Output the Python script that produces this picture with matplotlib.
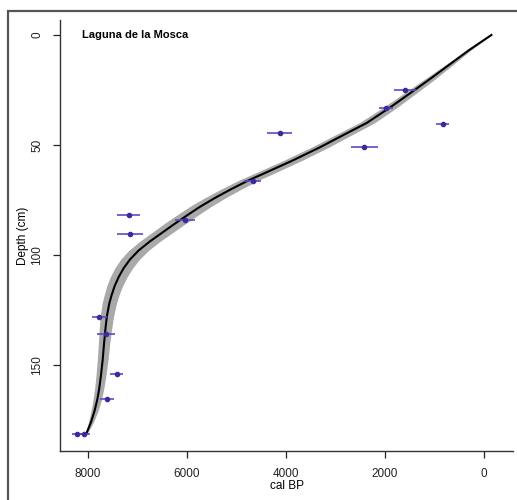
import matplotlib

matplotlib.use("Agg")
import matplotlib.pyplot as plt
from matplotlib.patches import Rectangle

plt.rcParams["font.family"] = ["Liberation Sans", "DejaVu Sans"]

# dated samples: calibrated age (cal BP), depth (cm), 1-sigma age error
age = [1600, 1980, 830, 4130, 2420, 4670, 6040, 7180, 7150,
       7770, 7640, 7420, 7620, 8220, 8080]
depth = [25, 33, 40.5, 44.7, 51, 66.4, 84, 82, 90.5,
         128, 136, 154, 165.5, 181.3, 181.6]
age_err = [220, 150, 130, 250, 270, 170, 200, 230, 260,
           150, 180, 130, 140, 100, 130]

# age-depth model (mean) and uncertainty envelope half-width
model_depth = [0, 7, 14.5, 20, 25, 33, 40, 45, 51, 57, 63, 66, 70, 74, 78,
               82, 86, 90, 94, 98, 102, 106, 110, 114, 118, 122, 128, 134,
               140, 148, 155, 161, 166, 171, 176, 181]
model_age = [-150, 310, 760, 1090, 1400, 1900, 2370, 2800, 3310, 3860,
             4450, 4750, 5100, 5430, 5730, 6000, 6260, 6510, 6760, 6980,
             7150, 7280, 7380, 7460, 7520, 7570, 7620, 7650, 7675, 7705,
             7740, 7775, 7815, 7870, 7940, 8030]
model_hw = [0, 40, 80, 105, 120, 140, 155, 165, 175, 185, 195, 200, 205,
            210, 215, 215, 215, 210, 205, 200, 190, 180, 170, 160, 150,
            145, 135, 125, 115, 108, 100, 92, 85, 70, 50, 20]

W, H = 517, 500
fig = plt.figure(figsize=(W / 100, H / 100), dpi=100)
fig.patch.set_facecolor("white")

# outer frame of the figure panel
fig.patches.append(Rectangle((8 / W, -0.1), 1.2, (H - 11) / H + 0.1,
                             transform=fig.transFigure, fill=False,
                             edgecolor="#555555", linewidth=1.6))

ax = fig.add_axes([60 / W, (H - 451) / H, (513 - 60) / W, (451 - 20) / H])

lo = [a - h for a, h in zip(model_age, model_hw)]
hi = [a + h for a, h in zip(model_age, model_hw)]
ax.fill_betweenx(model_depth, lo, hi, color="#a9a9a9", linewidth=0, zorder=1)
ax.plot(model_age, model_depth, color="black", linewidth=1.5, zorder=2,
        solid_joinstyle="round")

ax.errorbar(age, depth, xerr=age_err, fmt="o", color="#3a2c9c",
            ecolor="#5b4cc4", elinewidth=1.2, markersize=3,
            capsize=0, zorder=3)

ax.set_xlim(8566, -586)
ax.set_ylim(189.1, -6.8)
ax.set_xticks([8000, 6000, 4000, 2000, 0])
ax.set_yticks([0, 50, 100, 150])
ax.set_yticklabels(["0", "50", "100", "150"], rotation=90, va="center")
ax.tick_params(labelsize=8.5, length=5, width=0.9, colors="#222222", pad=7)
ax.spines[["top", "right"]].set_visible(False)
ax.spines[["left", "bottom"]].set_color("#333333")
ax.spines[["left", "bottom"]].set_linewidth(1.0)

ax.set_xlabel("cal BP", fontsize=8.5, labelpad=0)
ax.set_ylabel("Depth (cm)", fontsize=8.5, labelpad=2)

fig.text(82 / W, 1 - 35 / H, "Laguna de la Mosca", fontsize=8,
         fontweight="bold", va="center", ha="left")

fig.savefig("out.png", dpi=100, facecolor="white")
plt.close(fig)
